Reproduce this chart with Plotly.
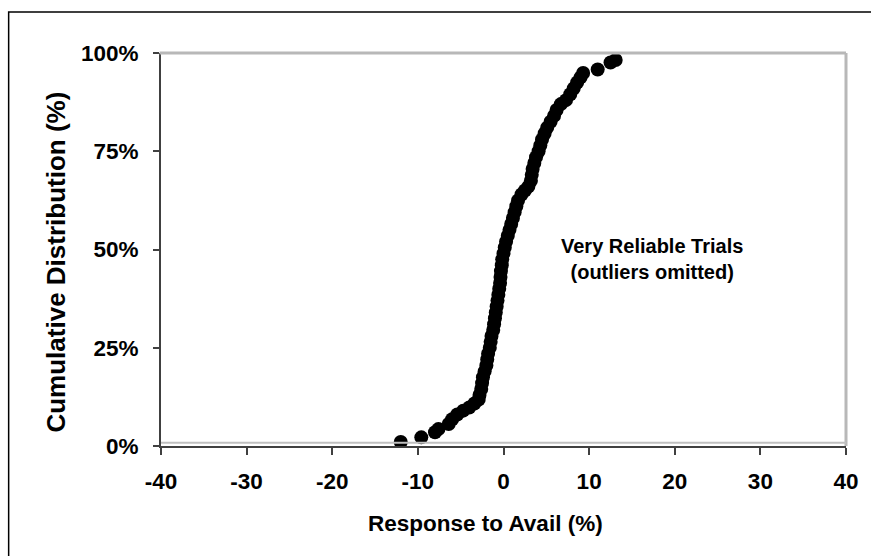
import plotly.graph_objects as go

# Response to Avail (%) and cumulative distribution (%)
response = [-12.0, -9.6, -8.0, -7.6, -6.4, -6.0, -5.4, -4.7, -4.0, -3.4,
            -2.9, -2.8, -2.6, -2.5, -2.4, -2.2, -2.0, -1.9, -1.8, -1.6,
            -1.5, -1.4, -1.2, -1.1, -1.0, -0.9, -0.8, -0.7, -0.6, -0.5,
            -0.4, -0.35, -0.3, -0.2, -0.15, 0.0, 0.15, 0.3, 0.5, 0.7,
            0.9, 1.1, 1.3, 1.5, 1.7, 2.1, 2.5, 2.9, 3.2, 3.3,
            3.4, 3.6, 3.8, 4.1, 4.3, 4.5, 4.8, 5.1, 5.5, 5.9,
            6.2, 6.7, 7.3, 7.8, 8.2, 8.6, 9.0, 9.3, 11.0, 12.5, 13.1]
cumulative = [1.0, 2.2, 3.5, 4.3, 5.6, 6.8, 8.0, 9.0, 9.8, 10.8,
              11.8, 13.0, 14.5, 16.0, 17.5, 19.0, 20.5, 22.0, 23.5, 25.0,
              26.5, 28.0, 29.5, 31.0, 32.5, 34.0, 35.5, 37.0, 38.5, 40.0,
              41.5, 43.0, 44.5, 46.0, 47.5, 49.0, 50.5, 52.0, 53.5, 55.0,
              56.5, 58.0, 59.5, 61.0, 62.5, 64.0, 65.0, 66.0, 67.5, 69.0,
              70.5, 72.0, 73.5, 75.0, 76.5, 78.0, 79.5, 81.0, 82.5, 84.0,
              85.5, 87.0, 88.0, 89.5, 91.0, 92.5, 93.8, 94.9, 95.8, 97.6, 98.2]

x_ticks = [-40, -30, -20, -10, 0, 10, 20, 30, 40]
y_ticks = [0, 25, 50, 75, 100]
y_tick_labels = ["0%", "25%", "50%", "75%", "100%"]

x_title = "Response to Avail (%)"
y_title = "Cumulative Distribution (%)"
note = "Very Reliable Trials<br>(outliers omitted)"

FONT = "Liberation Sans, Arial, sans-serif"

fig = go.Figure()
fig.add_trace(go.Scatter(
    x=response, y=cumulative, mode="markers",
    marker=dict(color="black", size=14, line=dict(width=0)),
    showlegend=False, hoverinfo="skip",
))

fig.update_layout(
    width=871, height=556,
    margin=dict(l=161, r=22, t=53, b=110),
    paper_bgcolor="white", plot_bgcolor="white",
    showlegend=False,
)

fig.update_xaxes(
    range=[-40, 40], tickvals=x_ticks, ticktext=[str(v) for v in x_ticks],
    showgrid=False, zeroline=False,
    showline=True, linecolor="#404040", linewidth=2,
    ticks="outside", ticklen=7, tickwidth=1.5, tickcolor="#404040",
    ticklabelstandoff=7,
    tickfont=dict(family=FONT, size=22.5, color="black", weight="bold"),
)
fig.update_yaxes(
    range=[0, 100], tickvals=y_ticks, ticktext=y_tick_labels,
    showgrid=False, zeroline=False,
    showline=True, linecolor="#404040", linewidth=2,
    ticks="outside", ticklen=6, tickwidth=1.5, tickcolor="#404040",
    ticklabelstandoff=10,
    tickfont=dict(family=FONT, size=22.5, color="black", weight="bold"),
)

# plot area border (gray) on top and right, and faint inner bottom line
fig.add_shape(type="line", xref="paper", yref="paper", x0=-0.002, x1=1.0, y0=1.0, y1=1.0,
              line=dict(color="#b8b8b8", width=3))
fig.add_shape(type="line", xref="paper", yref="paper", x0=1.0, x1=1.0, y0=0.0, y1=1.0,
              line=dict(color="#b8b8b8", width=3))
fig.add_shape(type="line", xref="paper", yref="paper", x0=0.0, x1=1.0, y0=0.008, y1=0.008,
              line=dict(color="#c0c0c0", width=2))

# outer chart border (only top and left visible)
fig.add_shape(type="rect", xref="paper", yref="paper",
              x0=-0.2224, x1=1.06, y0=-0.30, y1=1.1043,
              line=dict(color="black", width=1.5), fillcolor="rgba(0,0,0,0)", layer="above")

fig.add_annotation(
    x=17.4, y=47.7, xref="x", yref="y", text=note, showarrow=False,
    xanchor="center", yanchor="middle", align="center",
    font=dict(family=FONT, size=20, color="black", weight="bold"),
)
fig.add_annotation(
    x=0.474, y=-0.196, xref="paper", yref="paper", text=x_title, showarrow=False,
    xanchor="center", yanchor="middle",
    font=dict(family=FONT, size=22.5, color="black", weight="bold"),
)
fig.add_annotation(
    x=-0.1526, y=0.468, xref="paper", yref="paper", text=y_title, showarrow=False,
    xanchor="center", yanchor="middle", textangle=-90,
    font=dict(family=FONT, size=26, color="black", weight="bold"),
)

fig.write_html("out.html")
